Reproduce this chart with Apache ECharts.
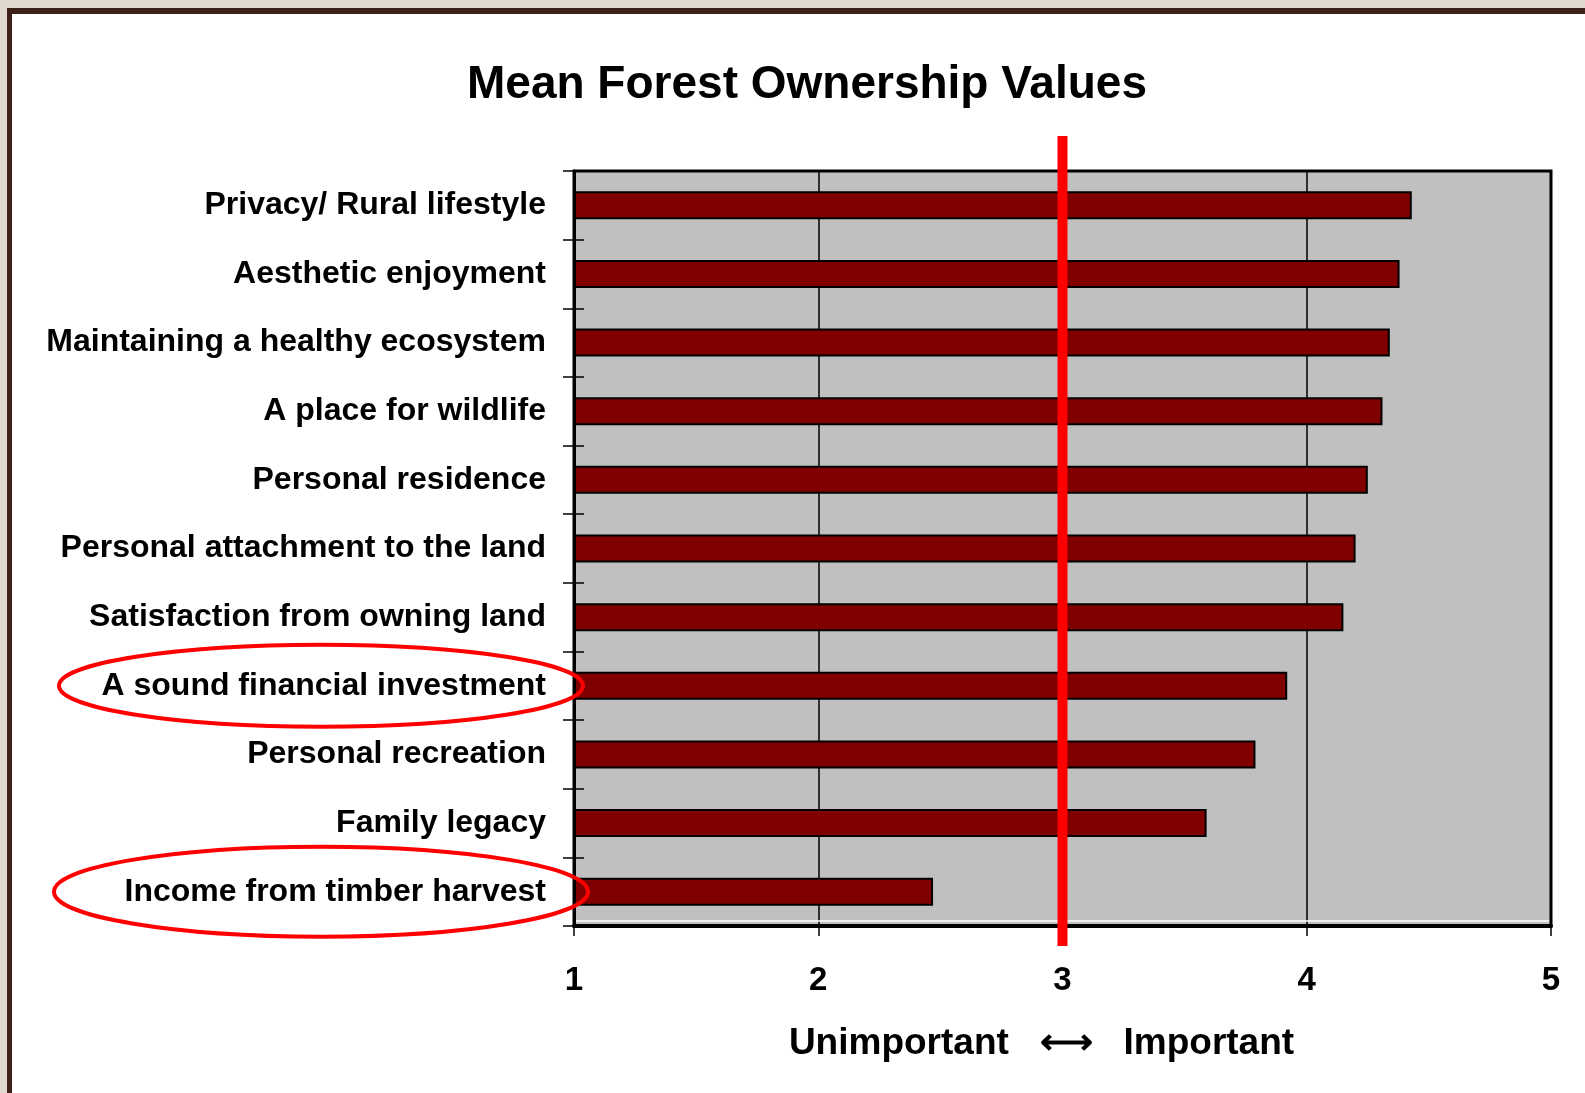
<!DOCTYPE html>
<html>
<head>
<meta charset="utf-8">
<script src="https://cdn.jsdelivr.net/npm/echarts@6/dist/echarts.min.js"></script>
<style>
  html, body { margin: 0; padding: 0; background: #ffffff; }
  #chart { width: 1585px; height: 1093px; }
</style>
</head>
<body>
<div id="chart"></div>
<script>
const categories = [
    'Privacy/ Rural lifestyle',
    'Aesthetic enjoyment',
    'Maintaining a healthy ecosystem',
    'A place for wildlife',
    'Personal residence',
    'Personal attachment to the land',
    'Satisfaction from owning land',
    'A sound financial investment',
    'Personal recreation',
    'Family legacy',
    'Income from timber harvest',
];
const meanValues = [4.43, 4.38, 4.34, 4.31, 4.25, 4.20, 4.15, 3.92, 3.79, 3.59, 2.47];
const xTicks = [1, 2, 3, 4, 5];
const neutralValue = 3;
const circledCategories = ['A sound financial investment', 'Income from timber harvest'];

const FONT = '"Liberation Sans", Arial, sans-serif';
const chart = echarts.init(document.getElementById('chart'));

chart.setOption({
    backgroundColor: '#ffffff',
    animation: false,
    title: {
        text: 'Mean Forest Ownership Values',
        left: 802,
        textAlign: 'center',
        top: 57,
        textStyle: { fontFamily: FONT, fontSize: 46, fontWeight: 'bold', color: '#000' },
    },
    grid: {
        left: 574,
        right: 34,
        top: 171,
        bottom: 167,
        show: true,
        backgroundColor: '#c0c0c0',
        borderColor: '#000',
        borderWidth: 3,
    },
    xAxis: {
        type: 'value',
        min: xTicks[0],
        max: xTicks[xTicks.length - 1],
        interval: 1,
        startValue: 1,
        axisLine: { show: true, lineStyle: { color: '#000', width: 4 } },
        axisTick: { show: true, length: 10, lineStyle: { color: '#000', width: 1.5 } },
        splitLine: { show: true, lineStyle: { color: '#000', width: 1.5 } },
        axisLabel: {
            margin: 38,
            fontFamily: FONT, fontSize: 33, fontWeight: 'bold', color: '#000',
        },
        name: 'Unimportant   \u27F7   Important',
        nameLocation: 'middle',
        nameGap: 99,
        nameTextStyle: {
            fontFamily: FONT, fontSize: 37, fontWeight: 'bold', color: '#000',
            padding: [0, 42, 0, 0],
        },
    },
    yAxis: [
        {
            type: 'category',
            data: categories,
            inverse: true,
            axisLine: { show: true, lineStyle: { color: '#000', width: 3 } },
            axisTick: { show: true, length: 11, lineStyle: { color: '#000', width: 1.5 } },
            axisLabel: {
                margin: 28,
                fontFamily: FONT, fontSize: 32, fontWeight: 'bold', color: '#000',
            },
            splitLine: { show: false },
        },
        {
            type: 'category',
            data: categories,
            inverse: true,
            position: 'left',
            axisLine: { show: false },
            axisTick: { show: true, inside: true, length: 10, lineStyle: { color: '#000', width: 1.5 } },
            axisLabel: { show: false },
            splitLine: { show: false },
        },
    ],
    series: [
        {
            type: 'bar',
            data: meanValues,
            barWidth: 28,
            itemStyle: { color: '#800000', borderColor: '#000', borderWidth: 2 },
            z: 3,
        },
    ],
});

// overlays: frame, neutral line, circled labels
const x3 = chart.convertToPixel({ xAxisIndex: 0 }, neutralValue);
const graphics = [
    { type: 'rect', shape: { x: 0, y: 0, width: 1585, height: 8 }, style: { fill: '#e2d9ce' }, z: 100 },
    { type: 'rect', shape: { x: 0, y: 0, width: 7, height: 1093 }, style: { fill: '#e2d9ce' }, z: 100 },
    { type: 'rect', shape: { x: 7, y: 8, width: 1578, height: 6 }, style: { fill: '#3d2118' }, z: 101 },
    { type: 'rect', shape: { x: 7, y: 8, width: 5, height: 1085 }, style: { fill: '#3d2118' }, z: 101 },
    { type: 'line', shape: { x1: 576, y1: 921, x2: 1549, y2: 921 }, style: { stroke: '#ffffff', lineWidth: 1.5 }, z: 50 },
    { type: 'line', shape: { x1: x3, y1: 136, x2: x3, y2: 946 }, style: { stroke: '#ff0000', lineWidth: 10 }, z: 60 },
];
circledCategories.forEach(function (name, i) {
    const cy = chart.convertToPixel({ yAxisIndex: 0 }, name);
    graphics.push({
        type: 'ellipse',
        shape: { cx: 321, cy: cy, rx: i === 0 ? 262 : 267, ry: i === 0 ? 41 : 45 },
        style: { fill: 'none', stroke: '#ff0000', lineWidth: 4 },
        z: 60,
    });
});
chart.setOption({ graphic: graphics });
</script>
</body>
</html>
